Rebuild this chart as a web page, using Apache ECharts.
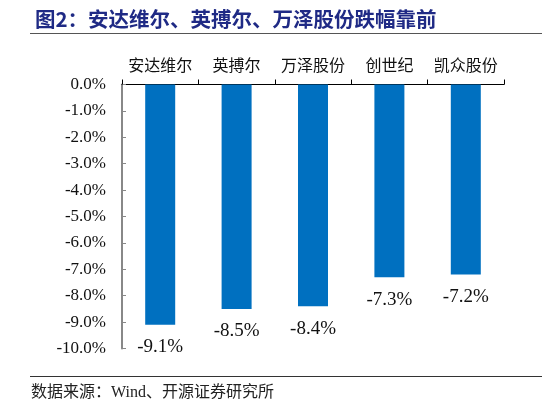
<!DOCTYPE html>
<html>
<head>
<meta charset="utf-8">
<script src="https://cdn.jsdelivr.net/npm/echarts@6/dist/echarts.min.js"></script>
<style>
    html, body {margin: 0; padding: 0; background: #fff;}
    #chart {width: 546px; height: 406px;}
</style>
</head>
<body>
<div id="chart"></div>
<script>
var categories = ['安达维尔', '英搏尔', '万泽股份', '创世纪', '凯众股份'];
var drops = [-9.1, -8.5, -8.4, -7.3, -7.2];
var yMin = -10, yMax = 0, yStep = 1;

var serif = "'Liberation Serif', 'Noto Sans CJK SC', serif";

var myChart = echarts.init(document.getElementById('chart'));
var option = {
    animation: false,
    backgroundColor: '#fff',
    title: {
        text: '图2：安达维尔、英搏尔、万泽股份跌幅靠前',
        left: 30,
        top: 4,
        textStyle: {
            color: '#1f2a85',
            fontSize: 20.5,
            fontWeight: 'bold',
            fontFamily: "'Noto Sans CJK SC', sans-serif"
        }
    },
    graphic: [
        {type: 'line', shape: {x1: 30, y1: 33.5, x2: 542, y2: 33.5}, style: {stroke: '#555', lineWidth: 1}},
        {type: 'line', shape: {x1: 30, y1: 376.5, x2: 542, y2: 376.5}, style: {stroke: '#333', lineWidth: 1}},
        {
            type: 'text', left: 31, top: 385,
            style: {text: '数据来源：Wind、开源证券研究所', fill: '#222', font: "16px 'Liberation Serif', 'Noto Sans CJK SC'"}
        }
    ],
    grid: {left: 122, right: 42, top: 84.5, bottom: 57.5},
    xAxis: {
        type: 'category',
        data: categories,
        position: 'top',
        axisLine: {lineStyle: {color: '#000', width: 1}},
        axisTick: {show: true, length: 5, lineStyle: {color: '#000'}},
        axisLabel: {interval: 0, color: '#111', fontSize: 16, margin: 10, fontFamily: serif}
    },
    yAxis: {
        type: 'value',
        min: yMin,
        max: yMax,
        interval: yStep,
        axisLine: {show: true, lineStyle: {color: '#888', width: 2}},
        axisTick: {show: true, inside: true, length: 4, lineStyle: {color: '#888'}},
        splitLine: {show: false},
        axisLabel: {
            color: '#111',
            fontSize: 17,
            margin: 16,
            fontFamily: serif,
            formatter: function (v) { return v.toFixed(1) + '%'; }
        }
    },
    series: [{
        type: 'bar',
        data: drops,
        barWidth: 30,
        itemStyle: {color: '#0070c0'},
        label: {
            show: true,
            position: 'bottom',
            distance: 13,
            color: '#111',
            fontSize: 19,
            fontFamily: serif,
            formatter: function (p) { return p.value.toFixed(1) + '%'; }
        }
    }]
};
myChart.setOption(option);
</script>
</body>
</html>
